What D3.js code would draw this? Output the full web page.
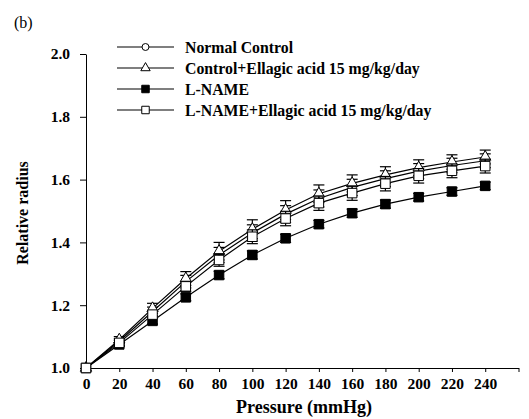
<!DOCTYPE html>
<html>
<head>
<meta charset="utf-8">
<script src="https://cdn.jsdelivr.net/npm/d3@7"></script>
<style>
  body { margin: 0; background: #fff; }
  svg text { font-family: "Liberation Serif", "Times New Roman", Times, serif !important; }
</style>
</head>
<body>
<div id="wrapper"></div>
<script>
const width = 529
const height = 419

// data
const pressure = [0, 20, 40, 60, 80, 100, 120, 140, 160, 180, 200, 220, 240]
const seriesNames = ["Normal Control", "Control+Ellagic acid 15 mg/kg/day", "L-NAME", "L-NAME+Ellagic acid 15 mg/kg/day"]
const normalControl = [1.0, 1.085, 1.18, 1.275, 1.36, 1.43, 1.49, 1.54, 1.575, 1.603, 1.627, 1.645, 1.66]
const controlEA = [1.0, 1.09, 1.19, 1.285, 1.372, 1.442, 1.503, 1.555, 1.588, 1.615, 1.638, 1.656, 1.672]
const lName = [1.0, 1.075, 1.15, 1.225, 1.296, 1.36, 1.413, 1.458, 1.493, 1.522, 1.544, 1.562, 1.58]
const lNameEA = [1.0, 1.08, 1.17, 1.26, 1.344, 1.418, 1.476, 1.525, 1.557, 1.587, 1.612, 1.628, 1.643]
const errNormal = [0, 0.008, 0.014, 0.02, 0.024, 0.026, 0.027, 0.027, 0.026, 0.025, 0.024, 0.023, 0.022]
const errControlEA = [0, 0.01, 0.016, 0.022, 0.028, 0.03, 0.03, 0.028, 0.027, 0.026, 0.025, 0.023, 0.022]
const errLName = [0, 0.006, 0.01, 0.011, 0.012, 0.013, 0.013, 0.012, 0.013, 0.013, 0.012, 0.012, 0.012]
const errLNameEA = [0, 0.008, 0.012, 0.016, 0.02, 0.022, 0.023, 0.023, 0.023, 0.023, 0.023, 0.022, 0.022]
const yTicks = [1.0, 1.2, 1.4, 1.6, 1.8, 2.0]
const xTicks = [0, 20, 40, 60, 80, 100, 120, 140, 160, 180, 200, 220, 240, 260]

const svg = d3.select("#wrapper").append("svg")
    .attr("width", width)
    .attr("height", height)

const x = d3.scaleLinear().domain([0, 260]).range([86, 518.5])
const y = d3.scaleLinear().domain([1.0, 2.0]).range([368, 54])

// axes
svg.append("g")
    .attr("transform", `translate(0,${y(1.0)})`)
    .call(d3.axisBottom(x).tickValues(xTicks).tickSize(4).tickSizeOuter(0)
        .tickFormat(d => d === 260 ? "" : d))
    .call(g => g.selectAll("line, path").attr("stroke", "#000"))
    .call(g => g.selectAll("text")
        .attr("y", 21).attr("dy", 0)
        .style("font-size", "15.5px").style("font-weight", "bold"))

svg.append("g")
    .attr("transform", `translate(${x(0)},0)`)
    .call(d3.axisLeft(y).tickValues(yTicks).tickSize(6).tickSizeOuter(0).tickFormat(d3.format(".1f")))
    .call(g => g.selectAll("line, path").attr("stroke", "#000"))
    .call(g => g.selectAll("text")
        .attr("x", -16)
        .style("font-size", "15.5px").style("font-weight", "bold"))

svg.append("text")
    .attr("x", 304).attr("y", 413)
    .attr("text-anchor", "middle")
    .style("font-size", "18px").style("font-weight", "bold")
    .text("Pressure (mmHg)")

svg.append("text")
    .attr("transform", `translate(28,213) rotate(-90)`)
    .attr("text-anchor", "middle")
    .style("font-size", "16px").style("font-weight", "bold")
    .text("Relative radius")

svg.append("text")
    .attr("x", 14).attr("y", 28)
    .style("font-size", "16px")
    .text("(b)")

const series = [
    {name: seriesNames[0], values: normalControl, err: errNormal, shape: "circle", fill: "#fff"},
    {name: seriesNames[1], values: controlEA, err: errControlEA, shape: "triangle", fill: "#fff"},
    {name: seriesNames[2], values: lName, err: errLName, shape: "square", fill: "#000"},
    {name: seriesNames[3], values: lNameEA, err: errLNameEA, shape: "square", fill: "#fff"}
]

const symbolFor = s => {
    if (s.shape === "circle") return d3.symbol(d3.symbolCircle, 55)()
    if (s.shape === "triangle") return d3.symbol(d3.symbolTriangle, 55)()
    return d3.symbol(d3.symbolSquare, 90)()
}

const line = d3.line().x((d, i) => x(pressure[i])).y(d => y(d))

const plot = svg.append("g")

// lines first
series.forEach(s => {
    plot.append("path")
        .datum(s.values)
        .attr("fill", "none")
        .attr("stroke", "#000")
        .attr("stroke-width", 1.2)
        .attr("d", line)
})

series.forEach(s => {
    const g = plot.append("g")
    const pts = s.values.map((v, i) => ({p: pressure[i], v: v, e: s.err[i]}))
    const eb = g.selectAll(".eb").data(pts.filter(d => d.e > 0)).join("g")
    eb.append("line")
        .attr("x1", d => x(d.p)).attr("x2", d => x(d.p))
        .attr("y1", d => y(d.v - d.e)).attr("y2", d => y(d.v + d.e))
        .attr("stroke", "#000").attr("stroke-width", 1.2)
    eb.append("line")
        .attr("x1", d => x(d.p) - 5.5).attr("x2", d => x(d.p) + 5.5)
        .attr("y1", d => y(d.v + d.e)).attr("y2", d => y(d.v + d.e))
        .attr("stroke", "#000").attr("stroke-width", 1.2)
    eb.append("line")
        .attr("x1", d => x(d.p) - 5.5).attr("x2", d => x(d.p) + 5.5)
        .attr("y1", d => y(d.v - d.e)).attr("y2", d => y(d.v - d.e))
        .attr("stroke", "#000").attr("stroke-width", 1.2)
    g.selectAll(".m").data(pts).join("path")
        .attr("transform", d => `translate(${x(d.p)},${y(d.v)})`)
        .attr("d", symbolFor(s))
        .attr("fill", s.fill)
        .attr("stroke", "#000")
        .attr("stroke-width", 1)
})

// legend
const legend = svg.append("g")
    .selectAll("g")
    .data(series)
    .join("g")
    .attr("transform", (d, i) => `translate(117,${47 + i * 21})`)
legend.append("line")
    .attr("x1", 0).attr("x2", 57)
    .attr("stroke", "#000").attr("stroke-width", 1.2)
legend.append("path")
    .attr("transform", "translate(28.5,0)")
    .attr("d", d => d.shape === "square"
        ? d3.symbol(d3.symbolSquare, 56)()
        : d3.symbol(d.shape === "circle" ? d3.symbolCircle : d3.symbolTriangle, 38)())
    .attr("fill", d => d.fill)
    .attr("stroke", "#000")
legend.append("text")
    .attr("x", 68).attr("dy", "0.35em")
    .style("font-size", "15.8px").style("font-weight", "bold")
    .text(d => d.name)
</script>
</body>
</html>
